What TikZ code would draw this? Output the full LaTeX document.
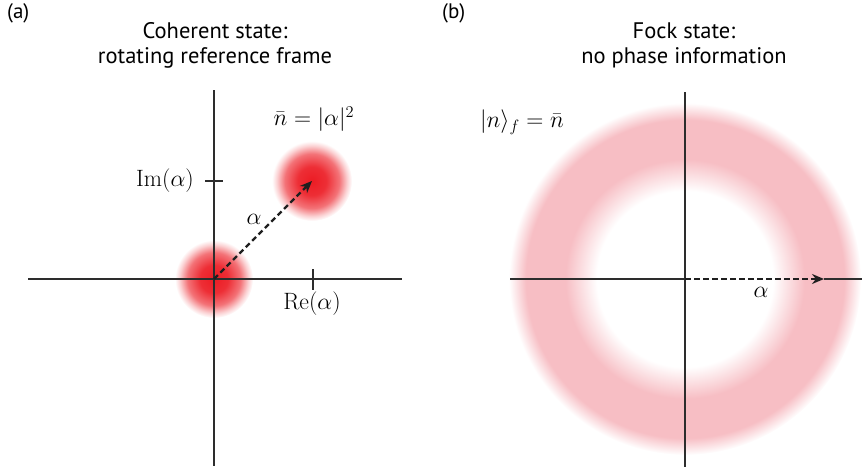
\documentclass[tikz,border=0pt]{standalone}
\usepackage{fontspec}
\setsansfont{PT Sans}
\usetikzlibrary{arrows.meta,calc}
\definecolor{blobred}{RGB}{236,28,36}
\definecolor{ringpink}{RGB}{247,190,196}
\definecolor{axisgray}{RGB}{45,45,45}
\pgfdeclareradialshading{blobshade}{\pgfpoint{0bp}{0bp}}{color(0bp)=(blobred); color(9bp)=(blobred!92!white); color(17bp)=(blobred!62!white); color(22bp)=(blobred!20!white); color(25bp)=(white); color(50bp)=(white)}
\pgfdeclareradialshading{ringshade}{\pgfpoint{0bp}{0bp}}{color(0bp)=(white); color(12.5bp)=(white); color(17bp)=(ringpink); color(22.6bp)=(ringpink); color(25bp)=(white); color(50bp)=(white)}
\newcommand{\mlab}[1]{\scalebox{1.14}{$#1$}}
\tikzset{
  axisline/.style={line width=1.3pt, draw=axisgray},
  vecarrow/.style={line width=2.4pt, draw=black!88, dash pattern=on 5.5pt off 3.5pt, -{Stealth[length=12pt,width=10pt]}},
  titletext/.style={font=\sffamily\fontsize{22.5}{26}\selectfont, anchor=base, inner sep=0pt},
  paneltag/.style={font=\sffamily\fontsize{21}{24}\selectfont, anchor=base west, inner sep=0pt},
  mathlabel/.style={font=\fontsize{20.74}{25}\selectfont, inner sep=0pt}
}
\begin{document}
\begin{tikzpicture}[x=1pt,y=-1pt]
\useasboundingbox (0,0) rectangle (865,471);
% ---------- panel (a) ----------
\coordinate (o1) at (214,279);
\coordinate (p1) at (312,181);
\shade[shading=blobshade] (o1) circle (39);
\shade[shading=blobshade] (p1) circle (40);
\coordinate (ax1l) at (28,279);
\coordinate (ax1r) at (402,279);
\coordinate (ay1t) at (214,90);
\coordinate (ay1b) at (214,466);
\draw[axisline] (ax1l) -- (ax1r);
\draw[axisline] (ay1t) -- (ay1b);
\coordinate (imtl) at (205,181);
\coordinate (imtr) at (223,181);
\coordinate (retu) at (313,269);
\coordinate (retd) at (313,290);
\draw[axisline] (imtl) -- (imtr);
\draw[axisline] (retu) -- (retd);
\draw[vecarrow] (o1) -- (p1);
\node[mathlabel, anchor=east] (imlab) at (194,181) {\mlab{\mathrm{Im}(\alpha)}};
\node[mathlabel] (relab) at (312,304) {\mlab{\mathrm{Re}(\alpha)}};
\node[mathlabel] (alab1) at (254,219) {\mlab{\alpha}};
\node[mathlabel] (nlab) at (314,119) {\mlab{\bar{n}=|\alpha|^2}};
\node[paneltag] (taga) at (7,19) {(a)};
\node[titletext] (ta1) at (215,38) {Coherent state:};
\node[titletext] (ta2) at (215,63) {rotating reference frame};
% ---------- panel (b) ----------
\coordinate (o2) at (685,279);
\shade[shading=ringshade] (o2) circle (176);
\coordinate (ax2l) at (510,279);
\coordinate (ax2r) at (862,279);
\coordinate (ay2t) at (685,92);
\coordinate (ay2b) at (685,467);
\coordinate (a2) at (824,279);
\draw[axisline] (ax2l) -- (o2);
\draw[axisline] (a2) -- (ax2r);
\draw[axisline] (ay2t) -- (ay2b);
\draw[vecarrow] (o2) -- (a2);
\node[mathlabel] (alab2) at (761,292) {\mlab{\alpha}};
\node[mathlabel] (flab) at (522,122) {\mlab{|n\rangle_f=\bar{n}}};
\node[paneltag] (tagb) at (442,19) {(b)};
\node[titletext] (tb1) at (684,38) {Fock state:};
\node[titletext] (tb2) at (684,63) {no phase information};
\end{tikzpicture}
\end{document}
